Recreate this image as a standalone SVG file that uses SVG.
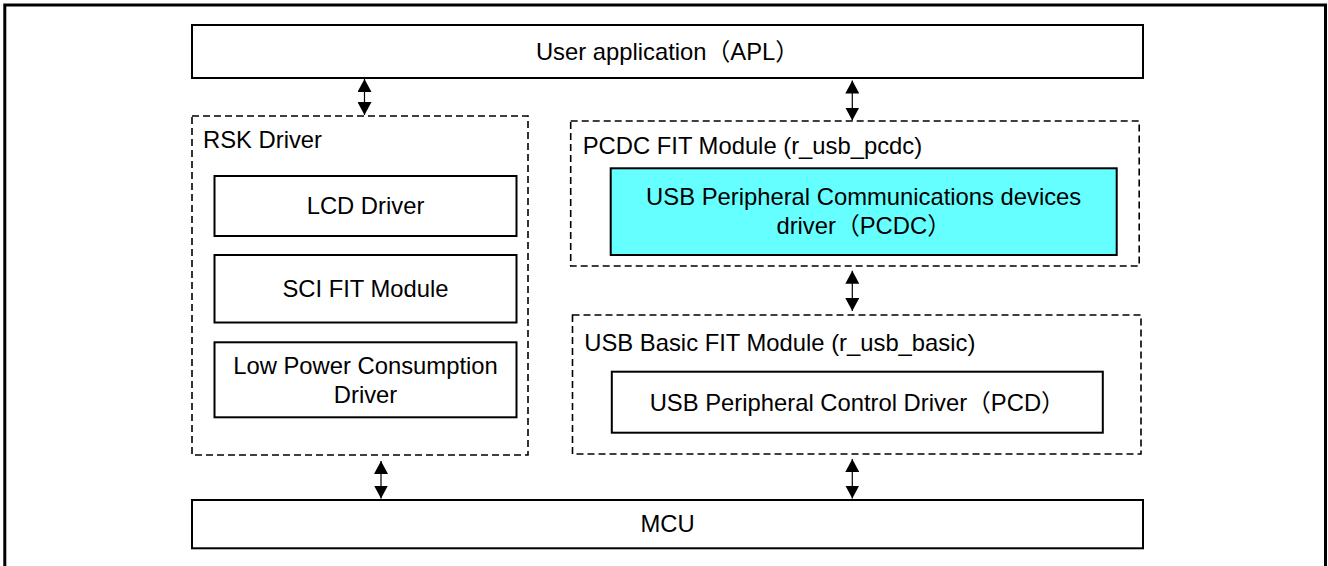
<svg xmlns="http://www.w3.org/2000/svg" width="1328" height="566" viewBox="0 0 1328 566">
<style>
text { font-family: "Liberation Sans", Arial, "Noto Sans CJK JP", sans-serif; font-size: 23.8px; fill: #000; }
.c { text-anchor: middle; }
.box { fill: #fff; stroke: #000; stroke-width: 2; }
.dash { fill: none; stroke: #000; stroke-width: 1.6; stroke-dasharray: 7 4; }
.conn { stroke: #000; stroke-width: 1.2; fill: none; marker-start: url(#ah); marker-end: url(#ah); }
</style>
<defs>
<marker id="ah" viewBox="0 0 13 14" refX="13" refY="7" markerWidth="13" markerHeight="14" orient="auto-start-reverse" markerUnits="userSpaceOnUse">
<path d="M0,0 L13,7 L0,14 z" fill="#000"/>
</marker>
</defs>
<rect x="0" y="0" width="1328" height="566" fill="#fff"/>
<rect id="frame" x="4.8" y="5" width="1320.7" height="600" fill="none" stroke="#000" stroke-width="3"/>

<g id="apl">
<rect class="box" x="192" y="25" width="951" height="53"/>
<text class="c" x="667.5" y="60">User application（APL）</text>
</g>

<g id="rsk">
<rect class="dash" x="192" y="116" width="336" height="339"/>
<text x="203" y="148">RSK Driver</text>
</g>
<g id="lcd">
<rect class="box" x="214.5" y="176" width="302" height="60"/>
<text class="c" x="365.5" y="214">LCD Driver</text>
</g>
<g id="sci">
<rect class="box" x="214.5" y="255" width="302" height="67.5"/>
<text class="c" x="365.5" y="297">SCI FIT Module</text>
</g>
<g id="lpc">
<rect class="box" x="214.5" y="342.3" width="302" height="75"/>
<text class="c" x="365.5" y="374">Low Power Consumption</text>
<text class="c" x="365.5" y="402.5">Driver</text>
</g>

<g id="pcdc">
<rect class="dash" x="570.7" y="121" width="568.5" height="145"/>
<text x="582.7" y="153.5">PCDC FIT Module (r_usb_pcdc)</text>
</g>
<g id="pcdc-driver">
<rect x="610.7" y="168.3" width="506" height="86.7" fill="#66ffff" stroke="#000" stroke-width="2"/>
<text class="c" x="863.7" y="205">USB Peripheral Communications devices</text>
<text class="c" x="863.7" y="234">driver（PCDC）</text>
</g>

<g id="basic">
<rect class="dash" x="572.5" y="315" width="568.5" height="139"/>
<text x="584.3" y="351">USB Basic FIT Module (r_usb_basic)</text>
</g>
<g id="pcd">
<rect class="box" x="611.8" y="371.7" width="491" height="61"/>
<text class="c" x="857.3" y="410.5">USB Peripheral Control Driver（PCD）</text>
</g>

<g id="mcu">
<rect class="box" x="192" y="500" width="951" height="48.3"/>
<text class="c" x="667.5" y="532">MCU</text>
</g>

<g id="connectors">
<line class="conn" x1="364.5" y1="79" x2="364.5" y2="115"/>
<line class="conn" x1="852.3" y1="80.5" x2="852.3" y2="120.5"/>
<line class="conn" x1="852.3" y1="270.7" x2="852.3" y2="311"/>
<line class="conn" x1="381" y1="461" x2="381" y2="498.5"/>
<line class="conn" x1="852.3" y1="459" x2="852.3" y2="498.5"/>
</g>
</svg>
